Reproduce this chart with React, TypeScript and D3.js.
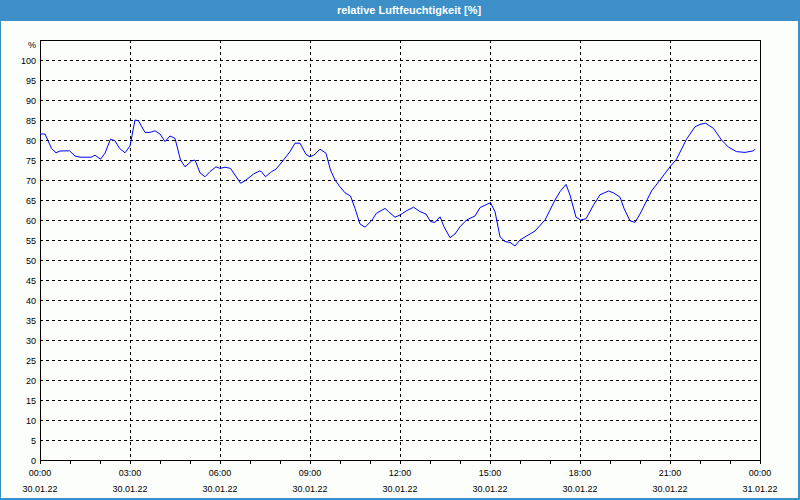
import React from "react";
import * as d3 from "d3";

const minutes = [0,10,23,32,40,59,70,80,103,110,121,130,141,150,159,170,180,190,197,210,220,230,240,250,260,270,281,290,303,310,320,330,340,352,360,370,381,401,410,427,439,443,451,463,472,487,500,510,520,532,540,548,560,572,581,590,600,610,621,630,640,650,663,673,690,697,710,720,733,747,760,772,781,790,800,808,820,830,840,853,870,880,895,901,910,920,930,940,950,960,973,990,1010,1030,1040,1052,1060,1072,1081,1092,1107,1120,1137,1147,1160,1168,1180,1190,1200,1223,1240,1260,1273,1293,1310,1320,1331,1347,1363,1377,1393,1410,1427,1430];
const humidity = [81.5,81.5,77.9,76.8,77.25,77.3,76,75.7,75.7,76.2,75.2,76.7,80.2,79.8,77.9,76.8,78.5,85,84.8,81.9,81.9,82.3,81.5,79.6,81,80.4,75,73.3,74.75,75,71.8,70.8,72.1,73.3,72.9,73.2,72.9,69.2,69.8,71.5,72.25,72.1,70.8,72.1,72.7,75,77.1,79.2,79.2,76.4,75.8,76.25,77.7,76.7,72.5,70,68.3,66.8,66,62.9,59,58.2,59.8,61.7,62.9,62.1,60.7,61.25,62.3,63.2,62.1,61.5,59.6,59.4,60.8,58.3,55.6,56.5,58.3,60,61,63.1,64,64.3,62.1,55.8,54.6,54.4,53.5,55,56,57.25,60,65,67.1,68.9,66.25,60.7,60,60.3,63.75,66.3,67.25,66.8,65.7,62.9,59.8,59.4,61.5,67.25,70,73.3,75.2,80.2,83.3,83.9,84.2,82.9,80,78.2,77.1,76.9,77.3,77.7];
const xTickHours = [0,3,6,9,12,15,18,21,24];
const xTimeLabels = ["00:00","03:00","06:00","09:00","12:00","15:00","18:00","21:00","00:00"];
const xDateLabels = ["30.01.22","30.01.22","30.01.22","30.01.22","30.01.22","30.01.22","30.01.22","30.01.22","31.01.22"];
const yTicks = [0,5,10,15,20,25,30,35,40,45,50,55,60,65,70,75,80,85,90,95,100];
const title = "relative Luftfeuchtigkeit [%]";

export default function App() {
  const W = 800, H = 500;
  const left = 40, right = 760, top = 40, bottom = 460;
  const x = d3.scaleLinear().domain([0, 24]).range([left, right]);
  const y = d3.scaleLinear().domain([0, 105]).range([bottom, top]);
  const pts = minutes.map((m, i) => [m / 60, humidity[i]] as [number, number]);
  const line = d3.line<[number, number]>().x(d => x(d[0])).y(d => y(d[1]));
  const hours = d3.range(0, 25);
  const font = "'Liberation Sans', Arial, sans-serif";
  return (
    <svg width={W} height={H} style={{ position: "absolute", left: 0, top: 0 }} fontFamily={font}>
      <rect x={0} y={0} width={W} height={H} fill="#3c8fc7" />
      <rect x={1} y={21} width={W - 3} height={H - 23} fill="#fcfefc" />
      <text x={409} y={14} fill="#ffffff" fontSize={11} fontWeight="bold" textAnchor="middle">{title}</text>
      {yTicks.filter(v => v > 0).map(v => (
        <line key={"h" + v} x1={left} x2={right} y1={y(v) + 0.5} y2={y(v) + 0.5} stroke="#000" strokeDasharray="3,3" />
      ))}
      {xTickHours.filter(h => h > 0 && h < 24).map(h => (
        <line key={"v" + h} x1={x(h) + 0.5} x2={x(h) + 0.5} y1={top} y2={bottom} stroke="#000" strokeDasharray="3,3" />
      ))}
      <rect x={left + 0.5} y={top + 0.5} width={right - left} height={bottom - top} fill="none" stroke="#000" />
      {hours.map(h => (
        <line key={"t" + h} x1={x(h) + 0.5} x2={x(h) + 0.5} y1={bottom} y2={bottom + 4} stroke="#000" />
      ))}
      <path d={line(pts) || ""} fill="none" stroke="#0000ff" strokeWidth={1} />
      <text x={36} y={48} fontSize={9} textAnchor="end" fill="#000">%</text>
      {yTicks.map(v => (
        <text key={"yl" + v} x={36} y={y(v) + 3.5} fontSize={9} textAnchor="end" fill="#000">{v}</text>
      ))}
      {xTickHours.map((h, i) => (
        <g key={"xl" + h}>
          <text x={x(h)} y={476} fontSize={9} textAnchor="middle" fill="#000">{xTimeLabels[i]}</text>
          <text x={x(h)} y={492} fontSize={9} textAnchor="middle" fill="#000">{xDateLabels[i]}</text>
        </g>
      ))}
    </svg>
  );
}
